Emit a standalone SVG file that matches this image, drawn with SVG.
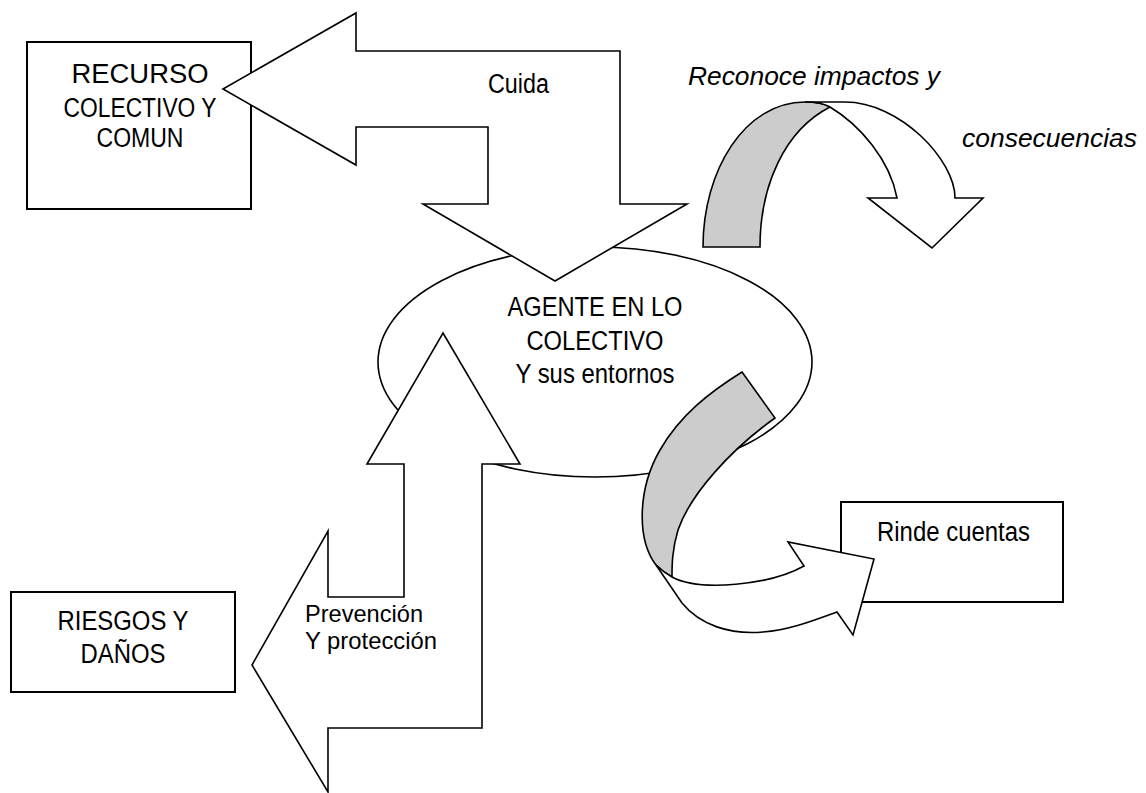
<svg xmlns="http://www.w3.org/2000/svg" width="1146" height="793" viewBox="0 0 1146 793">
<style>
.box{fill:#fff;stroke:#000;stroke-width:2}
.shp{fill:#fff;stroke:#000;stroke-width:1.6;stroke-linejoin:miter}
.gry{fill:#cccccc;stroke:#000;stroke-width:1.6}
.t{font-family:"Liberation Sans",Arial,sans-serif;font-size:27px;fill:#000}
.s{font-size:24px}
.m{text-anchor:middle}
.i{font-family:"Liberation Sans",Arial,sans-serif;font-size:25px;font-style:italic;fill:#000}
</style>
<rect width="1146" height="793" fill="#fff"/>
<g id="recurso"><rect class="box" x="27" y="42" width="224" height="167"/></g>
<g id="riesgos"><rect class="box" x="11" y="592" width="224" height="100"/></g>
<g id="rinde"><rect class="box" x="841" y="502" width="222" height="100"/></g>
<g id="agente"><ellipse class="shp" cx="595" cy="362" rx="217" ry="115"/></g>
<g id="connectors">
<polygon class="shp" points="223,89 356,13 356,51 620,51 620,204 687,204 555,281 423,204 488,204 488,127 356,127 356,165"/>
<polygon class="shp" points="443,333 520,464 482,464 482,728 328,728 328,792 252,665 328,531 328,597 404,597 404,464 367,464"/>
<path class="gry" d="M703,247 C703,170 745,102 805,102 Q822,102 830,107 C785,130 760,185 760,247 Z"/>
<path class="shp" d="M805,102 L845,102 C900,102 955,160 955,198 L983,198 L932,248 L868,198 L897,198 C890,160 860,125 830,107 Q822,102 805,102 Z"/>
<path class="gry" d="M742,372 L775,418 C730,450 690,495 678,530 C672,550 672,565 672,577 Q663,572 656,565 C637,540 637,490 660,450 C680,415 710,392 742,372 Z"/>
<path class="shp" d="M656,565 L682,603 C700,625 730,635 763,632 C790,630 815,620 837,612 L853,635 L874,559 L788,542 L804,566 C770,585 700,592 672,577 Q663,572 656,565 Z"/>
</g>
<g id="labels">
<text class="t m" x="140" y="83" textLength="137" lengthAdjust="spacingAndGlyphs">RECURSO</text>
<text class="t m" x="140" y="117" textLength="153" lengthAdjust="spacingAndGlyphs">COLECTIVO Y</text>
<text class="t m" x="140" y="147" textLength="87" lengthAdjust="spacingAndGlyphs">COMUN</text>
<text class="t" x="488" y="93" textLength="61" lengthAdjust="spacingAndGlyphs">Cuida</text>
<text class="t m" x="595" y="316" textLength="175" lengthAdjust="spacingAndGlyphs">AGENTE EN LO</text>
<text class="t m" x="595" y="350" textLength="137" lengthAdjust="spacingAndGlyphs">COLECTIVO</text>
<text class="t m" x="595" y="383" textLength="159" lengthAdjust="spacingAndGlyphs">Y sus entornos</text>
<text class="t s" x="305" y="622" textLength="118" lengthAdjust="spacingAndGlyphs">Prevención</text>
<text class="t s" x="305" y="649" textLength="132" lengthAdjust="spacingAndGlyphs">Y protección</text>
<text class="t m" x="123" y="630" textLength="131" lengthAdjust="spacingAndGlyphs">RIESGOS Y</text>
<text class="t m" x="123" y="663" textLength="85" lengthAdjust="spacingAndGlyphs">DAÑOS</text>
<text class="t" x="877" y="541" textLength="153" lengthAdjust="spacingAndGlyphs">Rinde cuentas</text>
<text class="i" x="688" y="85" textLength="252" lengthAdjust="spacingAndGlyphs">Reconoce impactos y</text>
<text class="i" x="962" y="147" textLength="175" lengthAdjust="spacingAndGlyphs">consecuencias</text>
</g>
</svg>
